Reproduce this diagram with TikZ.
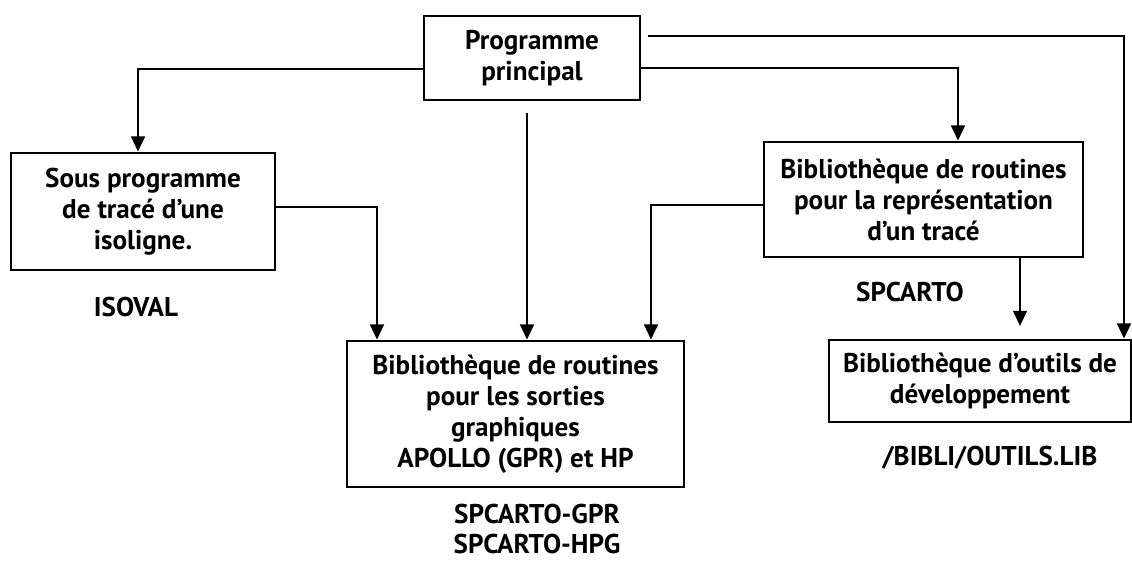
\documentclass[tikz,border=0pt]{standalone}
\usepackage{fontspec}
\setmainfont{PT Sans}
\usepackage{tikz}
\usetikzlibrary{arrows.meta}

\begin{document}
\begin{tikzpicture}[x=0.025cm,y=-0.025cm,line width=1.9pt,
    font=\fontsize{19.3}{22}\selectfont\bfseries,
    box/.style={draw,rectangle,align=center,inner sep=0pt},
    lbl/.style={align=center,inner sep=0pt},
    arr/.style={-{Triangle[width=0.34cm,length=0.38cm]}}]
    \useasboundingbox (0,0) rectangle (1132,563);

    \node[box,minimum width=5.4cm,minimum height=2.1cm] (main) at (532,58) {Programme\\principal};
    \node[box,minimum width=6.6cm,minimum height=2.925cm] (sous) at (143,211.5) {Sous programme\\de tracé d'une\\isoligne.};
    \node[box,minimum width=7.975cm,minimum height=2.875cm] (repr) at (923.5,199.5) {Bibliothèque de routines\\pour la représentation\\d'un tracé};
    \node[box,minimum width=8.425cm,minimum height=3.65cm] (sorties) at (515.5,414) {Bibliothèque de routines\\pour les sorties\\graphiques\\APOLLO (GPR) et HP};
    \node[box,minimum width=7.55cm,minimum height=2.05cm] (outils) at (980,381) {Bibliothèque d'outils de\\développement};

    \node[lbl] (isoval) at (136,307) {ISOVAL};
    \node[lbl] (spcarto) at (910,292) {SPCARTO};
    \node[lbl] (gprhpg) at (537,529) {SPCARTO-GPR\\SPCARTO-HPG};
    \node[lbl] (biblilib) at (990,458) {/BIBLI/OUTILS.LIB};

    \draw[arr] (main.west |- 0,69) -| (sous.north -| 138,0);
    \draw[arr] (sous.east |- 0,207) -| (sorties.north -| 377,0);
    \draw[arr,shorten <=8pt] (main.south -| 527,0) -- (sorties.north -| 527,0);
    \draw[arr] (main.east |- 0,68) -| (repr.north -| 958,0);
    \draw[arr,shorten <=5pt] (main.east |- 0,36) -| (outils.north -| 1124,0);
    \draw[arr] (repr.west |- 0,205) -| (sorties.north -| 651,0);
    \draw[arr,shorten >=9pt] (repr.south -| 1020,0) -- (outils.north -| 1020,0);
\end{tikzpicture}
\end{document}
